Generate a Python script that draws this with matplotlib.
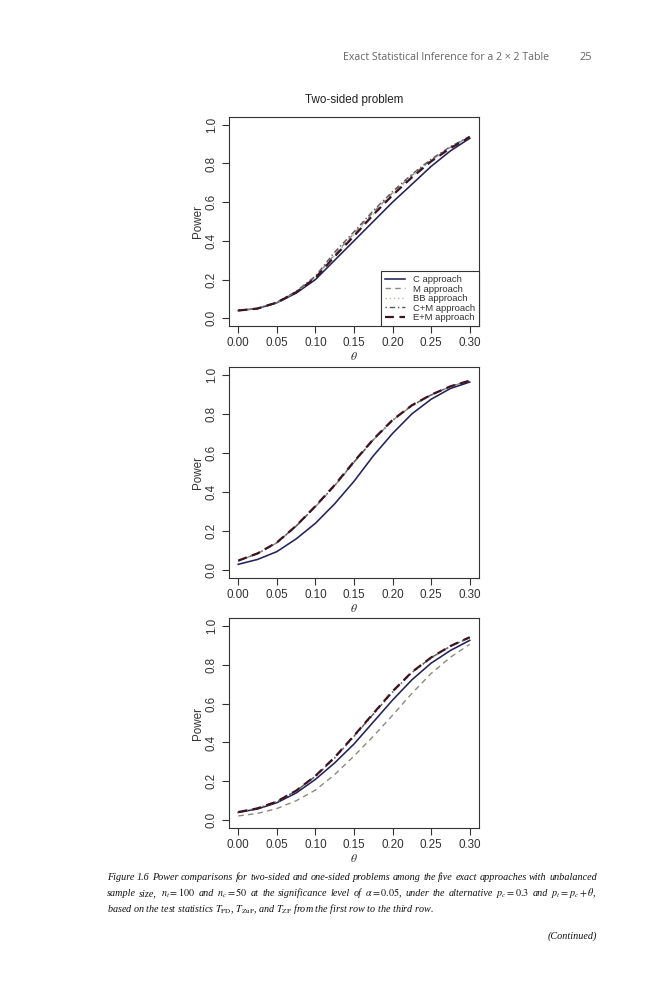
import matplotlib
matplotlib.use('Agg')
import matplotlib.pyplot as plt

plt.rcParams['font.family'] = ['Liberation Sans', 'DejaVu Sans']
plt.rcParams['mathtext.fontset'] = 'stix'

# ---------------- data ----------------
theta = [0.000, 0.025, 0.050, 0.075, 0.100, 0.125, 0.150, 0.175, 0.200, 0.225, 0.250, 0.275, 0.300]

approaches = ['C approach', 'M approach', 'BB approach', 'C+M approach', 'E+M approach']

# Row 1: T_PD (two-sided problem)
p1_C  = [0.040, 0.050, 0.080, 0.130, 0.200, 0.300, 0.400, 0.500, 0.600, 0.692, 0.785, 0.865, 0.930]
p1_M  = [0.040, 0.051, 0.082, 0.136, 0.212, 0.330, 0.438, 0.548, 0.648, 0.738, 0.818, 0.884, 0.938]
p1_BB = [0.040, 0.051, 0.083, 0.137, 0.215, 0.325, 0.432, 0.540, 0.642, 0.733, 0.815, 0.882, 0.937]
p1_CM = [0.040, 0.051, 0.083, 0.139, 0.218, 0.342, 0.447, 0.556, 0.655, 0.744, 0.822, 0.887, 0.940]
p1_EM = [0.040, 0.050, 0.081, 0.134, 0.208, 0.320, 0.425, 0.535, 0.636, 0.728, 0.811, 0.879, 0.936]

# Row 2: T_ZuP
p2_C  = [0.030, 0.055, 0.095, 0.160, 0.240, 0.340, 0.455, 0.585, 0.700, 0.800, 0.875, 0.930, 0.963]
p2_M  = [0.048, 0.085, 0.140, 0.225, 0.325, 0.432, 0.552, 0.667, 0.767, 0.842, 0.897, 0.940, 0.970]
p2_BB = [0.047, 0.084, 0.139, 0.223, 0.322, 0.430, 0.550, 0.664, 0.764, 0.840, 0.895, 0.939, 0.969]
p2_CM = [0.048, 0.085, 0.141, 0.226, 0.327, 0.434, 0.554, 0.668, 0.768, 0.843, 0.897, 0.941, 0.970]
p2_EM = [0.049, 0.086, 0.142, 0.227, 0.328, 0.436, 0.556, 0.670, 0.769, 0.844, 0.898, 0.941, 0.970]

# Row 3: T_ZP
p3_C  = [0.040, 0.058, 0.090, 0.140, 0.210, 0.295, 0.392, 0.505, 0.618, 0.722, 0.808, 0.873, 0.925]
p3_M  = [0.022, 0.035, 0.060, 0.100, 0.155, 0.235, 0.330, 0.432, 0.540, 0.652, 0.755, 0.838, 0.905]
p3_BB = [0.042, 0.060, 0.095, 0.150, 0.224, 0.318, 0.428, 0.542, 0.656, 0.757, 0.833, 0.893, 0.938]
p3_CM = [0.043, 0.061, 0.096, 0.151, 0.226, 0.321, 0.432, 0.546, 0.660, 0.760, 0.836, 0.895, 0.940]
p3_EM = [0.042, 0.061, 0.096, 0.152, 0.228, 0.324, 0.435, 0.549, 0.663, 0.762, 0.837, 0.896, 0.941]

xticks = [0.00, 0.05, 0.10, 0.15, 0.20, 0.25, 0.30]
xticklabels = ['0.00', '0.05', '0.10', '0.15', '0.20', '0.25', '0.30']
yticks = [0.0, 0.2, 0.4, 0.6, 0.8, 1.0]
yticklabels = ['0.0', '0.2', '0.4', '0.6', '0.8', '1.0']

header_text = 'Exact Statistical Inference for a 2 \u00d7 2 Table'
page_number = '25'
caption_1 = ('Figure 1.6 Power comparisons for two-sided and one-sided problems among '
             'the five exact approaches with unbalanced')
caption_2 = (r'sample size, $n_t=100$ and $n_c=50$ at the significance level of $\alpha=0.05$, '
             r'under the alternative $p_c=0.3$ and $p_t=p_c+\theta$,')
caption_3 = (r'based on the test statistics $T_{\mathrm{PD}}$, $T_{\mathrm{ZuP}}$, and '
             r'$T_{\mathrm{ZP}}$ from the first row to the third row.')
continued = '(Continued)'

# ---------------- styles ----------------
styles = {
    'C approach':   dict(color='#22225a', lw=1.15, ls='-'),
    'M approach':   dict(color='#8a8a82', lw=1.0, ls=(0, (4, 3))),
    'BB approach':  dict(color='#b5b5aa', lw=1.0, ls=(0, (1, 2))),
    'C+M approach': dict(color='#5a5a5a', lw=1.0, ls=(0, (1, 2, 4, 2))),
    'E+M approach': dict(color='#3d1420', lw=1.6, ls=(0, (4, 2.5))),
}

W, H = 666, 1000
fig = plt.figure(figsize=(W / 100, H / 100), dpi=100)

panels = [
    ((229, 117, 479, 326), [p1_C, p1_M, p1_BB, p1_CM, p1_EM], 'Two-sided problem', True),
    ((229, 367, 479, 578), [p2_C, p2_M, p2_BB, p2_CM, p2_EM], None, False),
    ((229, 618, 479, 828), [p3_C, p3_M, p3_BB, p3_CM, p3_EM], None, False),
]

axcol = '#333333'
for (x0, y0, x1, y1), series, title, show_legend in panels:
    ax = fig.add_axes([x0 / W, 1 - y1 / H, (x1 - x0) / W, (y1 - y0) / H])
    for name, vals in zip(approaches, series):
        st = styles[name]
        ax.plot(theta, vals, color=st['color'], lw=st['lw'], linestyle=st['ls'], label=name)
    ax.set_xlim(-0.012, 0.312)
    ax.set_ylim(-0.04, 1.04)
    ax.set_xticks(xticks)
    ax.set_xticklabels(xticklabels)
    ax.set_yticks(yticks)
    ax.set_yticklabels(yticklabels, rotation=90, va='center')
    ax.tick_params(axis='both', direction='out', length=5, width=0.8, color=axcol,
                   labelsize=8.4, labelcolor='#333333', pad=3)
    for s in ax.spines.values():
        s.set_color(axcol)
        s.set_linewidth(0.8)
    pw, ph = (x1 - x0), (y1 - y0)
    ax.text(0.5, -31 / ph, r'$\theta$', transform=ax.transAxes, ha='center', va='center',
            fontsize=8.5, color='#333333')
    ax.text(-31 / pw, 0.5, 'Power', transform=ax.transAxes, ha='center', va='center',
            rotation=90, fontsize=8.4, color='#333333')
    if title:
        ax.text(0.5, 1 + 17 / ph, title, transform=ax.transAxes, ha='center', va='center',
                fontsize=8.4, color='#222222')
    if show_legend:
        leg = ax.legend(loc='lower right', bbox_to_anchor=(1, 0), borderaxespad=0,
                        fontsize=6.8, frameon=True, fancybox=False, framealpha=1,
                        edgecolor=axcol, handlelength=2.1, handletextpad=0.9,
                        labelspacing=0.06, borderpad=0.4)
        leg.get_frame().set_linewidth(0.8)
        for t in leg.get_texts():
            t.set_color('#333333')

renderer = fig.canvas.get_renderer()

# ---------------- header ----------------
hdr = fig.text(343 / W, 1 - 57.5 / H, header_text, ha='left', va='center',
               family=['Open Sans', 'DejaVu Sans'], fontsize=10, color='#666666')
wh = hdr.get_window_extent(renderer).width
hdr.set_fontsize(10 * 206 / wh)
fig.text(592 / W, 1 - 57.5 / H, page_number, ha='right', va='center',
         family=['Open Sans', 'DejaVu Sans'], fontsize=hdr.get_fontsize() * 1.05, color='#666666')

# ---------------- caption ----------------
cap_kw = dict(family=['Liberation Serif', 'DejaVu Serif'], style='italic', color='#111111',
              va='baseline')
cx0, cx1 = 107, 597


def word_widths(words, size):
    ws = []
    for w in words:
        t = fig.text(0, 0, w, fontsize=size, **cap_kw)
        ws.append(t.get_window_extent(renderer).width)
        t.remove()
    return ws


# fit the caption size so that line 1 set with natural spaces spans the text block
words1 = caption_1.split(' ')
w_words = sum(word_widths(words1, 10))
t = fig.text(0, 0, 'a a', fontsize=10, **cap_kw)
w_aa_sp = t.get_window_extent(renderer).width
t.remove()
t = fig.text(0, 0, 'aa', fontsize=10, **cap_kw)
w_aa = t.get_window_extent(renderer).width
t.remove()
space10 = w_aa_sp - w_aa
cap_size = 10 * (cx1 - cx0) / (w_words + space10 * (len(words1) - 1))


def justified(line, ybase):
    words = line.split(' ')
    texts = [fig.text(0, 1 - ybase / H, w, fontsize=cap_size, **cap_kw) for w in words]
    widths = [tt.get_window_extent(renderer).width for tt in texts]
    gap = (cx1 - cx0 - sum(widths)) / (len(words) - 1)
    x = cx0
    for tt, w in zip(texts, widths):
        tt.set_x(x / W)
        x += w + gap


justified(caption_1, 880)
justified(caption_2, 896)
fig.text(cx0 / W, 1 - 912 / H, caption_3, fontsize=cap_size, **cap_kw)
fig.text(cx1 / W, 1 - 939 / H, continued, fontsize=cap_size, ha='right',
         family=['Liberation Serif', 'DejaVu Serif'], style='italic', color='#111111',
         va='baseline')

fig.savefig('out.png', dpi=100)
